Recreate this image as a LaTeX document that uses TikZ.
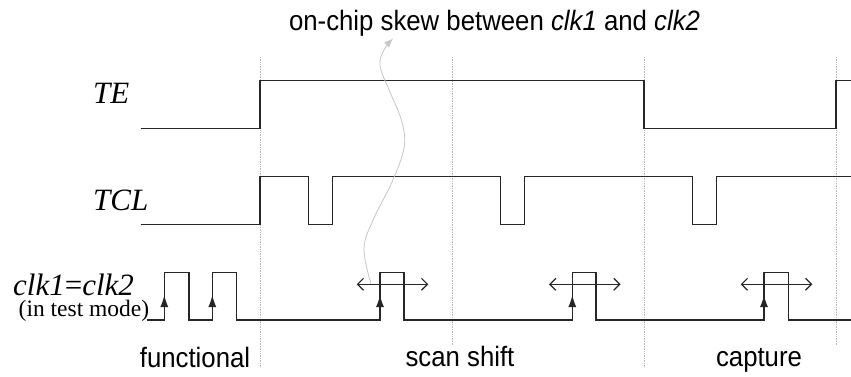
\documentclass[tikz,border=0pt]{standalone}
\usepackage{fontspec}
\setmainfont{Liberation Serif}
\newfontfamily\narrowsans[FakeStretch=0.92]{Liberation Sans}
\usetikzlibrary{arrows.meta}
\begin{document}
\begin{tikzpicture}[x=1pt,y=-1pt,
  wave/.style={line width=1.3pt, black!85, line join=miter},
  phase/.style={gray!55, line width=0.7pt, densely dotted},
  edgemark/.style={line width=1.3pt, black!85, -{Latex[length=12pt,width=8pt]}},
  skewarrow/.style={line width=1.2pt, black!85, {Straight Barb[length=6pt,width=12pt]}-{Straight Barb[length=6pt,width=12pt]}},
  sig/.style={font=\fontsize{31}{33}\selectfont\itshape, anchor=base west, inner sep=0pt},
  sans/.style={font=\fontsize{28}{30}\selectfont\narrowsans, anchor=base, inner sep=0pt}]
\useasboundingbox (0,0) rectangle (851,376);
% phase boundaries
\draw[phase] (260,57) -- (260,367);
\draw[phase] (452,57) -- (452,345);
\draw[phase] (644,57) -- (644,368);
\draw[phase] (836,57) -- (836,345);
% signal names
\node[sig] (te) at (93,103.3) {TE};
\node[sig] (tcl) at (93,210) {TCL};
\node[sig, text depth=0pt] (clk) at (13,295) {clk1\textup{=}clk2};
\node[anchor=base west, inner sep=0pt, text height=15pt, font=\fontsize{23.5}{25}\selectfont] (mode) at (18.5,316.5) {(in test mode)};
% TE
\draw[wave] (140.7,128.3) -- (260,128.3) -- (260,80.7) -- (644,80.7) -- (644,128.3) -- (836,128.3) -- (836,80.7) -- (851,80.7);
% TCL
\draw[wave] (140.7,224.3) -- (260,224.3) -- (260,176.7) -- (308.3,176.7) -- (308.3,224.3) -- (332.3,224.3) -- (332.3,176.7) -- (500.7,176.7) -- (500.7,224.3) -- (524.3,224.3) -- (524.3,176.7) -- (692.3,176.7) -- (692.3,224.3) -- (716.3,224.3) -- (716.3,176.7) -- (851,176.7);
% clock
\draw[wave] (146.7,320) -- (164.3,320) -- (164.3,272.3) -- (189,272.3) -- (189,320) -- (212.3,320) -- (212.3,272.3) -- (236.7,272.3) -- (236.7,320) -- (380,320) -- (380,272.3) -- (404,272.3) -- (404,320) -- (572.3,320) -- (572.3,272.3) -- (596,272.3) -- (596,320) -- (764,320) -- (764,272.3) -- (788.3,272.3) -- (788.3,320) -- (851,320);
\foreach \x in {164.3,212.3,380,572.3,764}
  \draw[edgemark] (\x,320) -- (\x,295);
% skew ranges
\foreach \x in {380,572.3,764}
  \draw[skewarrow] (\x-23.3,284.3) -- (\x+48.3,284.3);
% phase names
\node[sans] (func) at (195,367.7) {functional};
\node[sans] (shift) at (460,366.7) {scan shift};
\node[sans] (capt) at (759,366) {capture};
% skew annotation
\node[sans] (skew) at (494.5,30.7) {on-chip skew between \textit{clk1} and \textit{clk2}};
\coordinate (skewfrom) at (371,284);
\coordinate (skewto) at (393,38.5);
\draw[gray!45, line width=0.8pt, -{Latex[length=9pt,width=7pt]}] plot[smooth, tension=0.6] coordinates {(skewfrom) (364,248) (374,218) (392,182) (404,148) (402,122) (390,92) (380,66) (384,50) (skewto)};
\end{tikzpicture}
\end{document}
